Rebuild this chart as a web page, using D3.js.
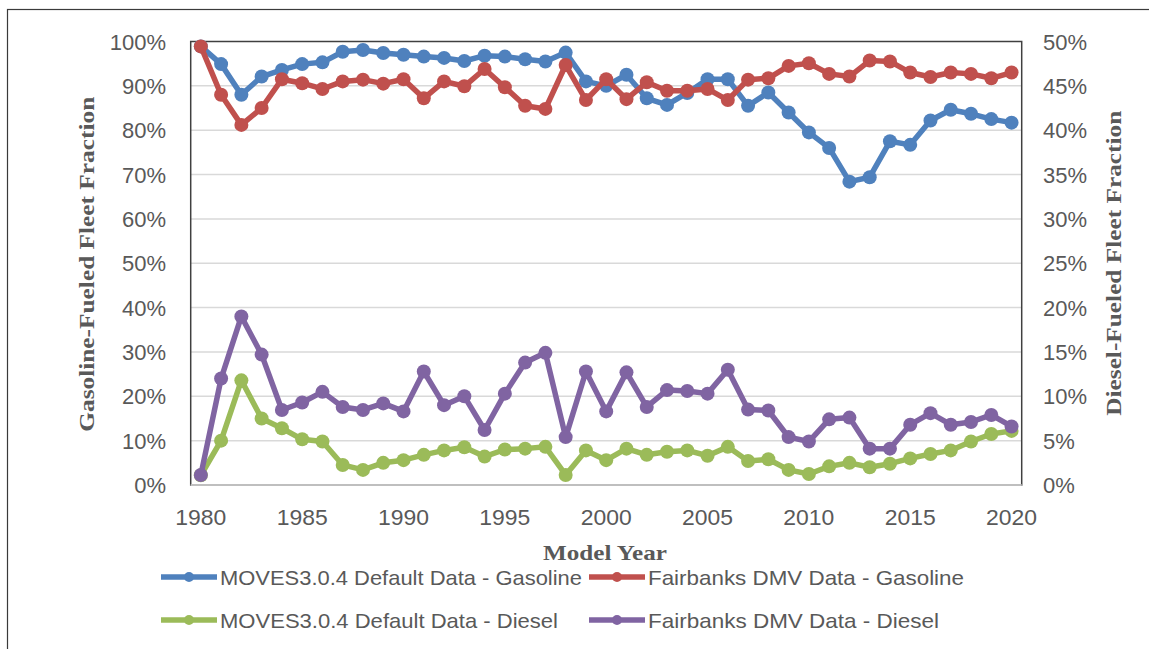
<!DOCTYPE html>
<html>
<head>
<meta charset="utf-8">
<script src="https://cdn.jsdelivr.net/npm/d3@7"></script>
<style>
  body { margin: 0; background: #fff; }
  svg { display: block; }
</style>
</head>
<body>
<div id="chart"></div>
<script>
// Model years (category axis)
const years = [1980, 1981, 1982, 1983, 1984, 1985, 1986, 1987, 1988, 1989,
               1990, 1991, 1992, 1993, 1994, 1995, 1996, 1997, 1998, 1999,
               2000, 2001, 2002, 2003, 2004, 2005, 2006, 2007, 2008, 2009,
               2010, 2011, 2012, 2013, 2014, 2015, 2016, 2017, 2018, 2019, 2020];
const yearTicks = [1980, 1985, 1990, 1995, 2000, 2005, 2010, 2015, 2020];

// Gasoline fractions (%) - left axis
const movesGasoline = [98.9, 94.9, 88.0, 92.1, 93.6, 94.9, 95.3, 97.7, 98.1, 97.4,
                       97.0, 96.6, 96.3, 95.6, 96.8, 96.6, 96.0, 95.5, 97.5, 91.0,
                       90.0, 92.5, 87.2, 85.7, 88.4, 91.5, 91.5, 85.5, 88.5, 84.0,
                       79.5, 76.0, 68.4, 69.4, 77.5, 76.7, 82.2, 84.6, 83.7, 82.5, 81.7];
const fairbanksGasoline = [98.9, 88.0, 81.2, 85.0, 91.5, 90.6, 89.3, 91.0, 91.4, 90.5,
                           91.5, 87.2, 91.0, 89.9, 93.8, 89.7, 85.5, 84.8, 94.7, 86.8,
                           91.5, 87.0, 90.8, 88.9, 88.9, 89.3, 86.8, 91.4, 91.7, 94.5,
                           95.1, 92.7, 92.1, 95.7, 95.5, 93.0, 92.0, 93.0, 92.7, 91.7, 93.0];

// Diesel fractions (%) - right axis
const movesDiesel = [1.1, 5.0, 11.8, 7.5, 6.4, 5.15, 4.9, 2.26, 1.7, 2.5,
                     2.8, 3.4, 3.9, 4.25, 3.2, 4.0, 4.1, 4.3, 1.13, 3.9,
                     2.8, 4.1, 3.4, 3.75, 3.9, 3.3, 4.3, 2.7, 2.9, 1.7,
                     1.24, 2.1, 2.5, 2.0, 2.4, 3.0, 3.5, 3.9, 4.9, 5.75, 6.1];
const fairbanksDiesel = [1.13, 12.0, 19.0, 14.7, 8.46, 9.3, 10.5, 8.8, 8.46, 9.2,
                         8.3, 12.8, 9.0, 10.0, 6.2, 10.3, 13.8, 14.9, 5.4, 12.8,
                         8.3, 12.7, 8.8, 10.7, 10.6, 10.3, 13.0, 8.5, 8.4, 5.4,
                         4.9, 7.4, 7.6, 4.1, 4.1, 6.8, 8.1, 6.8, 7.1, 7.9, 6.6];

const leftTicks = [0, 10, 20, 30, 40, 50, 60, 70, 80, 90, 100];
const rightTicks = [0, 5, 10, 15, 20, 25, 30, 35, 40, 45, 50];

const width = 1149, height = 649;
const plot = { left: 190.7, right: 1021.7, top: 41.5, bottom: 485 };

const svg = d3.select('#chart')
    .append('svg')
    .attr('width', width)
    .attr('height', height);

// outer chart frame (runs off the right / bottom edge)
svg.append('rect')
    .attr('x', 7.5).attr('y', 9.5)
    .attr('width', 1200).attr('height', 700)
    .attr('fill', 'none')
    .attr('stroke', '#3a3a3a')
    .attr('stroke-width', 1.2);

const x = d3.scalePoint()
    .domain(years)
    .range([plot.left, plot.right])
    .padding(0.5);

const yLeft = d3.scaleLinear().domain([0, 100]).range([plot.bottom, plot.top]);
const yRight = d3.scaleLinear().domain([0, 50]).range([plot.bottom, plot.top]);

// gridlines
svg.append('g')
    .selectAll('line')
    .data(leftTicks.filter(t => t > 0 && t < 100))
    .enter()
    .append('line')
    .attr('x1', plot.left).attr('x2', plot.right)
    .attr('y1', d => yLeft(d)).attr('y2', d => yLeft(d))
    .attr('stroke', '#d9d9d9')
    .attr('stroke-width', 1.5);

// plot area border
svg.append('rect')
    .attr('x', plot.left).attr('y', plot.top)
    .attr('width', plot.right - plot.left)
    .attr('height', plot.bottom - plot.top)
    .attr('fill', 'none')
    .attr('stroke', '#404040')
    .attr('stroke-width', 1.5);

// bottom axis line
svg.append('line')
    .attr('x1', plot.left).attr('x2', plot.right)
    .attr('y1', plot.bottom).attr('y2', plot.bottom)
    .attr('stroke', '#bfbfbf')
    .attr('stroke-width', 2);

const tickFont = '"Liberation Sans", Arial, sans-serif';
const titleFont = '"Liberation Serif", "DejaVu Serif", serif';

// left axis labels
svg.append('g')
    .selectAll('text')
    .data(leftTicks)
    .enter()
    .append('text')
    .attr('x', 166)
    .attr('y', d => yLeft(d) + 8)
    .attr('text-anchor', 'end')
    .style('font-family', tickFont)
    .style('font-size', '22px')
    .style('fill', '#595959')
    .text(d => d + '%');

// right axis labels
svg.append('g')
    .selectAll('text')
    .data(rightTicks)
    .enter()
    .append('text')
    .attr('x', 1043)
    .attr('y', d => yRight(d) + 8)
    .attr('text-anchor', 'start')
    .style('font-family', tickFont)
    .style('font-size', '22px')
    .style('fill', '#595959')
    .text(d => d + '%');

// x axis labels
svg.append('g')
    .selectAll('text')
    .data(yearTicks)
    .enter()
    .append('text')
    .attr('x', d => x(d))
    .attr('y', 525)
    .attr('text-anchor', 'middle')
    .style('font-family', tickFont)
    .style('font-size', '22px')
    .style('fill', '#595959')
    .attr('textLength', 51)
    .attr('lengthAdjust', 'spacingAndGlyphs')
    .text(d => d);

// axis titles
svg.append('text')
    .attr('transform', `translate(94, ${(plot.top + plot.bottom) / 2 + 1}) rotate(-90)`)
    .attr('text-anchor', 'middle')
    .style('font-family', titleFont)
    .style('font-weight', 'bold')
    .style('font-size', '22px')
    .style('fill', '#595959')
    .attr('textLength', 335)
    .attr('lengthAdjust', 'spacingAndGlyphs')
    .text('Gasoline-Fueled Fleet Fraction');

svg.append('text')
    .attr('transform', `translate(1121, ${(plot.top + plot.bottom) / 2}) rotate(-90)`)
    .attr('text-anchor', 'middle')
    .style('font-family', titleFont)
    .style('font-weight', 'bold')
    .style('font-size', '22px')
    .style('fill', '#595959')
    .attr('textLength', 305)
    .attr('lengthAdjust', 'spacingAndGlyphs')
    .text('Diesel-Fueled Fleet Fraction');

svg.append('text')
    .attr('x', 605)
    .attr('y', 560)
    .attr('text-anchor', 'middle')
    .style('font-family', titleFont)
    .style('font-weight', 'bold')
    .style('font-size', '22px')
    .style('fill', '#595959')
    .attr('textLength', 124)
    .attr('lengthAdjust', 'spacingAndGlyphs')
    .text('Model Year');

// series
const series = [
    { name: 'MOVES3.0.4 Default Data - Gasoline', values: movesGasoline, scale: yLeft, color: '#4f81bd' },
    { name: 'Fairbanks DMV Data - Gasoline', values: fairbanksGasoline, scale: yLeft, color: '#c0504d' },
    { name: 'MOVES3.0.4 Default Data - Diesel', values: movesDiesel, scale: yRight, color: '#9bbb59' },
    { name: 'Fairbanks DMV Data - Diesel', values: fairbanksDiesel, scale: yRight, color: '#8064a2' }
];

series.forEach(s => {
    const line = d3.line()
        .x((d, i) => x(years[i]))
        .y(d => s.scale(d));

    const g = svg.append('g');
    g.append('path')
        .datum(s.values)
        .attr('d', line)
        .attr('fill', 'none')
        .attr('stroke', s.color)
        .attr('stroke-width', 5.5)
        .attr('stroke-linejoin', 'round');

    g.selectAll('circle')
        .data(s.values)
        .enter()
        .append('circle')
        .attr('cx', (d, i) => x(years[i]))
        .attr('cy', d => s.scale(d))
        .attr('r', 7)
        .attr('fill', s.color);
});

// legend
const legendPos = [
    { lx: 161, tx: 220, y: 577, len: 362 },
    { lx: 589, tx: 648, y: 577, len: 316 },
    { lx: 161, tx: 220, y: 620, len: 338 },
    { lx: 589, tx: 648, y: 620, len: 291 }
];

series.forEach((s, i) => {
    const p = legendPos[i];
    const item = svg.append('g').attr('class', 'legend-item');
    item.append('line')
        .attr('x1', p.lx).attr('x2', p.lx + 56)
        .attr('y1', p.y).attr('y2', p.y)
        .attr('stroke', s.color)
        .attr('stroke-width', 5.5);
    item.append('circle')
        .attr('cx', p.lx + 28).attr('cy', p.y)
        .attr('r', 5)
        .attr('fill', s.color);
    item.append('text')
        .attr('x', p.tx)
        .attr('y', p.y + 8)
        .style('font-family', tickFont)
        .style('font-size', '21px')
        .style('fill', '#595959')
        .attr('textLength', p.len)
        .attr('lengthAdjust', 'spacingAndGlyphs')
        .text(s.name);
});
</script>
</body>
</html>
